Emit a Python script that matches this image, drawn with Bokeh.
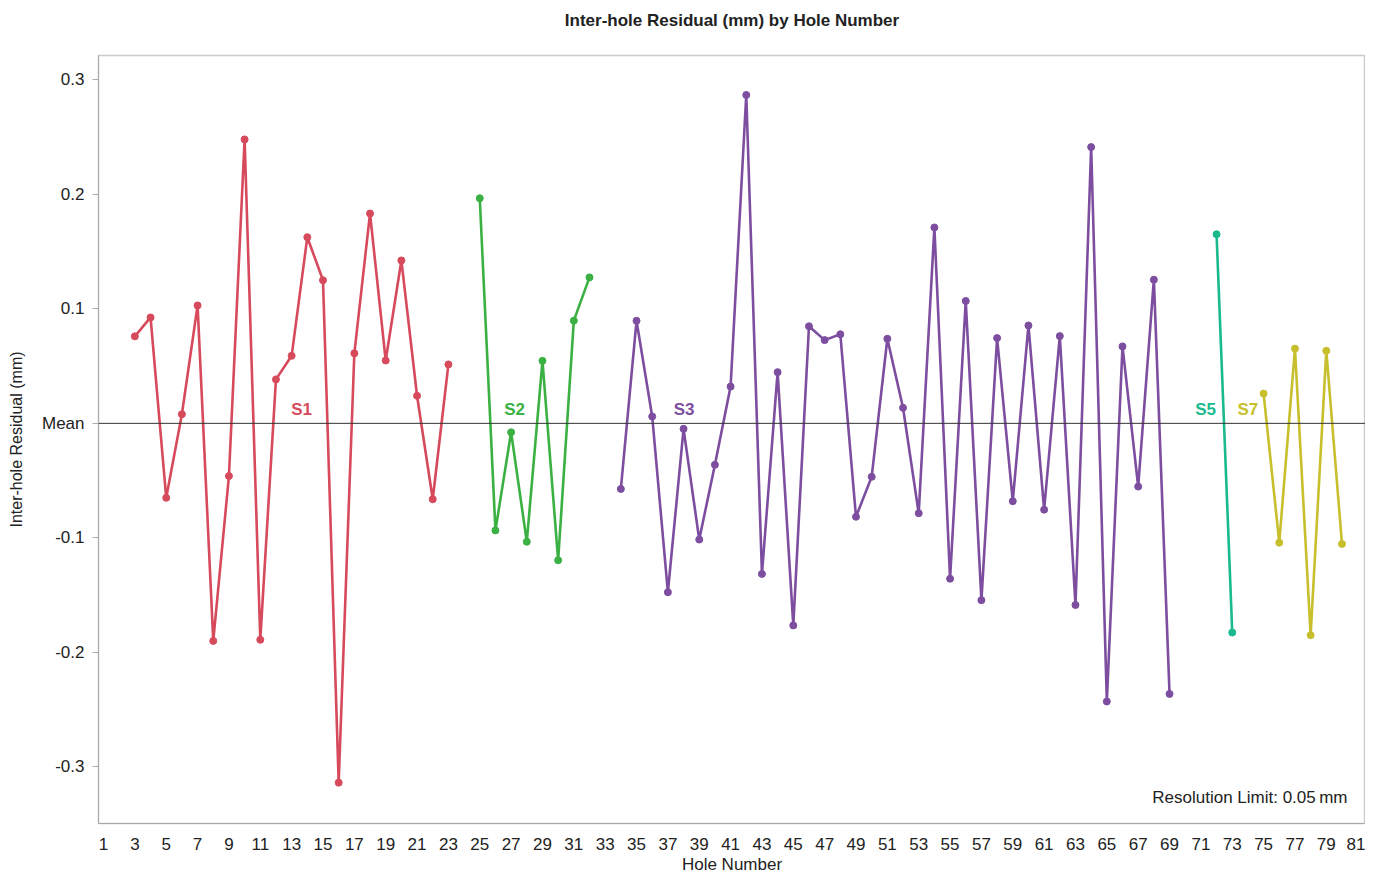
from bokeh.plotting import figure
from bokeh.models import FixedTicker, Span, Label, ColumnDataSource, Range1d
from bokeh.embed import file_html
from bokeh.resources import INLINE

# ---- data ----
s1_holes = [3, 4, 5, 6, 7, 8, 9, 10, 11, 12, 13, 14, 15, 16, 17, 18, 19, 20, 21, 22, 23]
s1_vals = [0.076, 0.0925, -0.065, 0.008, 0.103, -0.190, -0.046, 0.248, -0.189, 0.0384,
           0.059, 0.1626, 0.125, -0.3138, 0.0612, 0.1833, 0.0549, 0.1423, 0.0241, -0.0663, 0.0515]
s2_holes = [25, 26, 27, 28, 29, 30, 31, 32]
s2_vals = [0.1966, -0.0935, -0.0078, -0.1034, 0.0546, -0.1196, 0.0897, 0.1275]
s3_holes = list(range(34, 70))
s3_vals = [-0.0573, 0.0896, 0.006, -0.1475, -0.0048, -0.1015, -0.0362, 0.0321, 0.2868, -0.1315,
           0.0447, -0.1765, 0.0848, 0.0727, 0.0778, -0.0816, -0.0467, 0.0739, 0.0136, -0.0785,
           0.1711, -0.1357, 0.1069, -0.1544, 0.0745, -0.068, 0.0855, -0.0754, 0.0762, -0.1586,
           0.2413, -0.2429, 0.0672, -0.0552, 0.1255, -0.2363]
s5_holes = [72, 73]
s5_vals = [0.1652, -0.1827]
s7_holes = [75, 76, 77, 78, 79, 80]
s7_vals = [0.026, -0.1042, 0.0653, -0.185, 0.0634, -0.1053]

series_names = ["S1", "S2", "S3", "S5", "S7"]
series_colors = ["#d64a5c", "#3bb143", "#7d4ea0", "#1bba8e", "#c8bf2c"]
label_x = [13.64, 27.22, 38.03, 71.3, 74.0]
label_y = [0.0118, 0.0118, 0.0118, 0.0118, 0.0118]

x_ticks = list(range(1, 82, 2))
y_ticks = [-0.3, -0.2, -0.1, 0.0, 0.1, 0.2, 0.3]
y_tick_labels = ["-0.3", "-0.2", "-0.1", "Mean", "0.1", "0.2", "0.3"]

FONT = "Liberation Sans"

p = figure(width=1365, height=876, output_backend="svg", toolbar_location=None,
           x_range=Range1d(0.68, 81.5), y_range=Range1d(-0.3495, 0.3213),
           title="Inter-hole Residual (mm) by Hole Number",
           x_axis_label="Hole Number", y_axis_label="Inter-hole Residual (mm)",
           min_border_left=98, min_border_right=0, min_border_top=20, min_border_bottom=44)

p.title.align = "center"
p.title.vertical_align = "top"
p.title.text_font = FONT
p.title.text_font_size = "17px"
p.title.text_font_style = "bold"
p.title.text_color = "#222222"
p.title.standoff = 0
p.title.padding = dict(top=10, bottom=24, left=0, right=0)

p.grid.visible = False
p.outline_line_color = "#cccccc"
p.outline_line_width = 1.5

# axes
p.xaxis.ticker = FixedTicker(ticks=x_ticks)
p.yaxis.ticker = FixedTicker(ticks=y_ticks)
p.yaxis.major_label_overrides = {t: l for t, l in zip(y_ticks, y_tick_labels)}
for ax in (p.xaxis, p.yaxis):
    ax.axis_line_color = "#aaaaaa"
    ax.major_label_text_font = FONT
    ax.major_label_text_font_size = "17px"
    ax.major_label_text_color = "#222222"
    ax.axis_label_text_font = FONT
    ax.axis_label_text_font_size = "17px"
    ax.axis_label_text_font_style = "normal"
    ax.axis_label_text_color = "#222222"
    ax.minor_tick_line_color = None
p.xaxis.major_tick_line_color = None
p.xaxis.major_label_standoff = 8
p.xaxis.axis_label_standoff = 2
p.yaxis.major_tick_line_color = "#aaaaaa"
p.yaxis.major_tick_out = 6
p.yaxis.major_tick_in = 0
p.yaxis.major_label_standoff = 8
p.yaxis.axis_label_standoff = 14
p.yaxis.axis_label_text_font_size = "16px"

# mean line
p.add_layout(Span(location=0, dimension="width", line_color="#333333", line_width=1))

all_holes = [s1_holes, s2_holes, s3_holes, s5_holes, s7_holes]
all_vals = [s1_vals, s2_vals, s3_vals, s5_vals, s7_vals]
for name, col, hx, hy, lx, ly in zip(series_names, series_colors, all_holes, all_vals, label_x, label_y):
    src = ColumnDataSource(dict(x=hx, y=hy))
    p.line("x", "y", source=src, line_color=col, line_width=2.6)
    p.scatter("x", "y", source=src, size=7, fill_color=col, line_color=col)
    p.add_layout(Label(x=lx, y=ly, text=name, text_color=col, text_font=FONT,
                       text_font_size="17px", text_font_style="bold",
                       text_align="center", text_baseline="middle"))

p.add_layout(Label(x=80.35, y=-0.327,
                   text="Resolution Limit: 0.05\u2009mm", text_font=FONT, text_font_size="17px",
                   text_color="#222222", text_align="right", text_baseline="middle"))

open("out.html", "w").write(file_html(p, INLINE))
